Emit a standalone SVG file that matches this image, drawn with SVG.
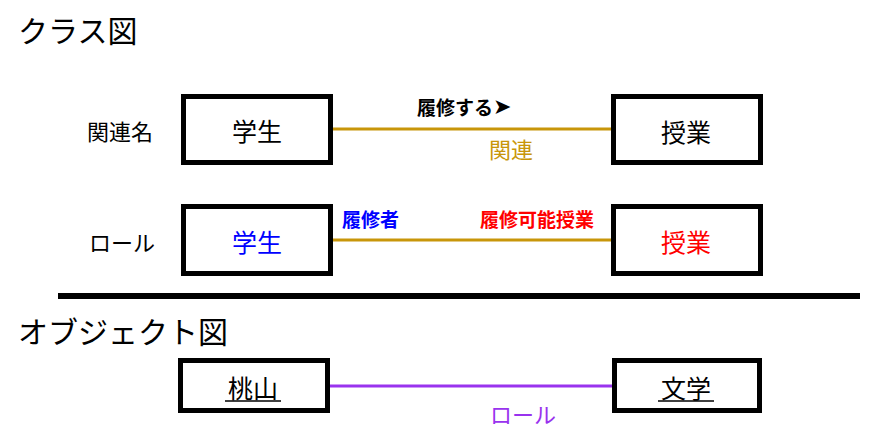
<svg xmlns="http://www.w3.org/2000/svg" width="876" height="437" viewBox="0 0 876 437">
<style>
text{font-family:"Noto Sans CJK JP","DejaVu Sans",sans-serif;dominant-baseline:central}
.box{fill:#fff;stroke:#000;stroke-width:5}
.c{text-anchor:middle}
.title{font-size:30px}
.lbl{font-size:22px}
.name{font-size:25px;text-anchor:middle}
.role{font-size:19px;font-weight:bold}
</style>
<rect width="876" height="437" fill="#fff"/>
<text class="title" x="18" y="29">クラス図</text>
<text class="lbl c" x="120" y="130">関連名</text>
<text class="lbl c" x="122" y="241">ロール</text>
<line x1="58" y1="296" x2="860" y2="296" stroke="#000" stroke-width="6"/>
<text class="title" x="18" y="330">オブジェクト図</text>
<g id="connectors">
<line x1="333" y1="129" x2="612" y2="129" stroke="#c8960a" stroke-width="3"/>
<line x1="333" y1="240" x2="612" y2="240" stroke="#c8960a" stroke-width="3"/>
<line x1="330" y1="386" x2="612" y2="386" stroke="#9933ee" stroke-width="3"/>
<text class="role" x="417" y="106" font-size="18">履修する<tspan font-family="DejaVu Sans" font-size="22">➤</tspan></text>
<text class="lbl c" x="511" y="148" fill="#c8960a">関連</text>
<text class="role" x="342" y="218" fill="#0000ff">履修者</text>
<text class="role" x="480" y="218" fill="#ff0000">履修可能授業</text>
<text class="lbl c" x="523" y="413" fill="#9933ee">ロール</text>
</g>
<g id="student1">
<rect class="box" x="183.5" y="96.5" width="147" height="66"/>
<text class="name" x="257" y="130">学生</text>
</g>
<g id="class1">
<rect class="box" x="613.5" y="96.5" width="147" height="66"/>
<text class="name" x="686" y="131">授業</text>
</g>
<g id="student2">
<rect class="box" x="183.5" y="206.5" width="147" height="67"/>
<text class="name" x="257" y="241" fill="#0000ff">学生</text>
</g>
<g id="class2">
<rect class="box" x="613.5" y="206.5" width="147" height="67"/>
<text class="name" x="686" y="241" fill="#ff0000">授業</text>
</g>
<g id="momoyama">
<rect class="box" x="180.5" y="360.5" width="147" height="50"/>
<text class="name" x="253" y="387">桃山</text>
<line x1="225" y1="401" x2="281" y2="401" stroke="#000" stroke-width="1.5"/>
</g>
<g id="bungaku">
<rect class="box" x="614.5" y="360.5" width="145" height="50"/>
<text class="name" x="686" y="387">文学</text>
<line x1="658" y1="401" x2="714" y2="401" stroke="#000" stroke-width="1.5"/>
</g>
</svg>
